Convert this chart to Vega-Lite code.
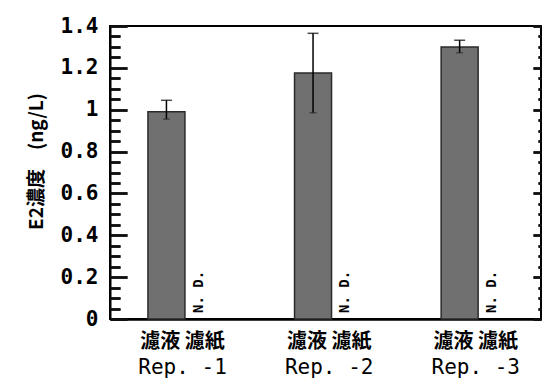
{
  "$schema": "https://vega.github.io/schema/vega-lite/v6.json",
  "width": 431,
  "height": 293,
  "autosize": "none",
  "padding": {"left": 110, "top": 26, "right": 1, "bottom": 63},
  "background": "white",
  "config": {
    "view": {"stroke": "#000", "strokeWidth": 2},
    "axis": {"grid": false}
  },
  "datasets": {
    "bars": [
      {"rep": "Rep. -1", "type": "濾液", "value": 0.99, "lo": 0.955, "hi": 1.045},
      {"rep": "Rep. -2", "type": "濾液", "value": 1.175, "lo": 0.985, "hi": 1.365},
      {"rep": "Rep. -3", "type": "濾液", "value": 1.30, "lo": 1.272, "hi": 1.332}
    ],
    "nd": [
      {"rep": "Rep. -1", "type": "濾紙", "note": "N. D."},
      {"rep": "Rep. -2", "type": "濾紙", "note": "N. D."},
      {"rep": "Rep. -3", "type": "濾紙", "note": "N. D."}
    ]
  },
  "data": {"name": "bars"},
  "layer": [
    {
      "mark": {"type": "bar", "width": 37, "fill": "#707070", "stroke": "#2a2a2a", "strokeWidth": 1.5},
      "encoding": {
        "x": {
          "field": "rep", "type": "nominal", "sort": ["Rep. -1", "Rep. -2", "Rep. -3"],
          "scale": {"domain": ["Rep. -1", "Rep. -2", "Rep. -3"], "paddingInner": 0.56, "paddingOuter": 0.25, "align": 0.55},
          "axis": {
            "orient": "bottom", "title": null, "ticks": false, "labelAngle": 0,
            "labelFont": "DejaVu Sans Mono", "labelFontSize": 21, "labelColor": "black",
            "labelPadding": 37, "domain": true, "domainColor": "black", "domainWidth": 2.5
          }
        },
        "xOffset": {
          "field": "type", "type": "nominal",
          "scale": {"domain": ["濾液", "濾紙"], "paddingInner": 0, "paddingOuter": 0}
        },
        "y": {
          "field": "value", "type": "quantitative",
          "scale": {"domain": [0, 1.4], "nice": false},
          "axis": {
            "orient": "left", "values": [0, 0.2, 0.4, 0.6, 0.8, 1, 1.2, 1.4], "format": "~g",
            "ticks": false, "domain": true, "domainColor": "black", "domainWidth": 2,
            "labelFont": "DejaVu Sans Mono", "labelFontSize": 21, "labelFontWeight": "bold",
            "labelColor": "black", "labelPadding": 12,
            "title": "E2濃度　(ng/L)", "titleFont": "Noto Sans CJK JP", "titleFontSize": 19,
            "titleFontWeight": "bold", "titleColor": "black", "titlePadding": 14, "titleY": 135
          }
        }
      }
    },
    {
      "mark": {"type": "rule", "color": "black", "strokeWidth": 1.5},
      "encoding": {
        "x": {
          "field": "rep", "type": "nominal",
          "axis": {
            "orient": "bottom", "title": null, "ticks": false, "domain": false, "labelAngle": 0,
            "labelExpr": "'濾液  濾紙'", "labelFont": "Noto Sans CJK JP", "labelFontSize": 20,
            "labelFontWeight": "bold", "labelColor": "black", "labelPadding": 12
          }
        },
        "xOffset": {"field": "type", "type": "nominal"},
        "y": {"field": "lo", "type": "quantitative", "axis": null},
        "y2": {"field": "hi"}
      }
    },
    {
      "mark": {"type": "tick", "color": "black", "size": 11, "thickness": 1.5},
      "encoding": {
        "x": {"field": "rep", "type": "nominal", "axis": null},
        "xOffset": {"field": "type", "type": "nominal"},
        "y": {"field": "hi", "type": "quantitative", "axis": null}
      }
    },
    {
      "mark": {"type": "tick", "color": "#222", "size": 7, "thickness": 1.2},
      "encoding": {
        "x": {"field": "rep", "type": "nominal", "axis": null},
        "xOffset": {"field": "type", "type": "nominal"},
        "y": {"field": "lo", "type": "quantitative", "axis": null}
      }
    },
    {
      "data": {"name": "nd"},
      "mark": {
        "type": "text", "angle": 270, "align": "left", "baseline": "middle", "dx": 6,
        "font": "DejaVu Sans Mono", "fontSize": 14, "fontWeight": "bold", "color": "black"
      },
      "encoding": {
        "x": {"field": "rep", "type": "nominal", "axis": null},
        "xOffset": {"field": "type", "type": "nominal"},
        "y": {"datum": 0, "type": "quantitative", "axis": null},
        "text": {"field": "note"}
      }
    },
    {
      "mark": {"type": "point", "opacity": 0},
      "encoding": {
        "x": {"field": "rep", "type": "nominal", "axis": null},
        "y": {
          "field": "value", "type": "quantitative",
          "axis": {
            "orient": "left", "values": [0, 0.2, 0.4, 0.6, 0.8, 1, 1.2, 1.4], "labelOpacity": 0,
            "domainOpacity": 0, "tickSize": -17, "tickWidth": 2.5, "tickColor": "#111", "title": null,
            "grid": true, "gridDash": [17, 1000], "gridWidth": 2.5, "gridColor": "#111", "gridOpacity": 1
          }
        }
      }
    },
    {
      "mark": {"type": "point", "opacity": 0},
      "encoding": {
        "x": {"field": "rep", "type": "nominal", "axis": null},
        "y": {
          "field": "hi", "type": "quantitative",
          "axis": {
            "orient": "left",
            "values": [0.05, 0.1, 0.15, 0.25, 0.3, 0.35, 0.45, 0.5, 0.55, 0.65, 0.7, 0.75, 0.85, 0.9, 0.95, 1.05, 1.1, 1.15, 1.25, 1.3, 1.35],
            "labelOpacity": 0, "domainOpacity": 0, "tickSize": -10, "tickWidth": 2.5, "tickColor": "#111", "title": null,
            "grid": true, "gridDash": [10, 1000], "gridWidth": 2.5, "gridColor": "#111", "gridOpacity": 1
          }
        }
      }
    },
    {
      "mark": {"type": "point", "opacity": 0},
      "encoding": {
        "x": {"field": "rep", "type": "nominal", "axis": null},
        "y": {
          "field": "lo", "type": "quantitative",
          "axis": {
            "orient": "right", "values": [0, 0.2, 0.4, 0.6, 0.8, 1, 1.2, 1.4], "labelOpacity": 0,
            "domainOpacity": 0, "tickSize": -8, "tickWidth": 2.5, "tickColor": "#111", "title": null,
            "grid": true, "gridDash": [8, 1000], "gridWidth": 2.5, "gridColor": "#111", "gridOpacity": 1
          }
        }
      }
    },
    {
      "mark": {"type": "point", "opacity": 0},
      "encoding": {
        "x": {"field": "rep", "type": "nominal", "axis": null},
        "y": {
          "field": "value", "type": "quantitative",
          "axis": {
            "orient": "right",
            "values": [0.05, 0.1, 0.15, 0.25, 0.3, 0.35, 0.45, 0.5, 0.55, 0.65, 0.7, 0.75, 0.85, 0.9, 0.95, 1.05, 1.1, 1.15, 1.25, 1.3, 1.35],
            "labelOpacity": 0, "domainOpacity": 0, "tickSize": -3, "tickWidth": 2.5, "tickColor": "#111", "title": null,
            "grid": true, "gridDash": [3, 1000], "gridWidth": 2.5, "gridColor": "#111", "gridOpacity": 1
          }
        }
      }
    }
  ],
  "resolve": {"axis": {"x": "independent", "y": "independent"}}
}
